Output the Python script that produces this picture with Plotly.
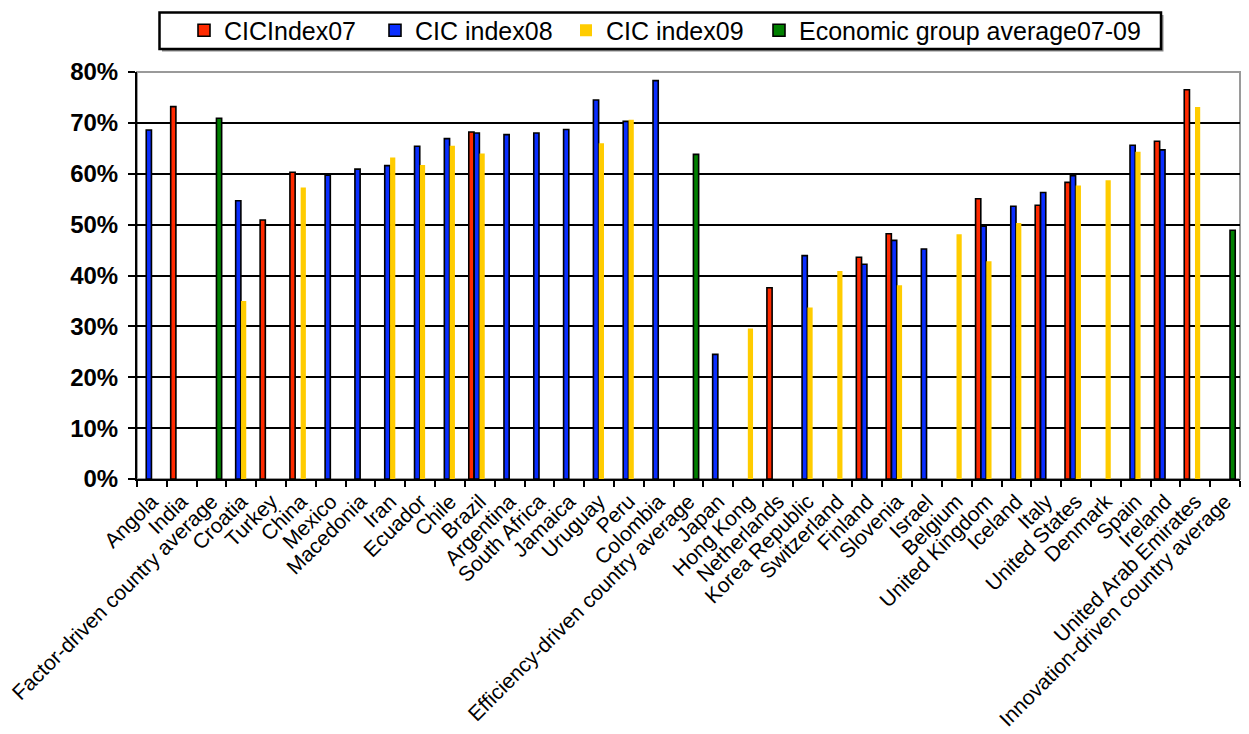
import plotly.graph_objects as go

categories = [
    "Angola", "India", "Factor-driven country average", "Croatia", "Turkey",
    "China", "Mexico", "Macedonia", "Iran", "Ecuador", "Chile", "Brazil",
    "Argentina", "South Africa", "Jamaica", "Uruguay", "Peru", "Colombia",
    "Efficiency-driven country average", "Japan", "Hong Kong", "Netherlands",
    "Korea Republic", "Switzerland", "Finland", "Slovenia", "Israel", "Belgium",
    "United Kingdom", "Iceland", "Italy", "United States", "Denmark", "Spain",
    "Ireland", "United Arab Emirates", "Innovation-driven country average",
]

# CIC index values in percent (None = no value for that year)
cic07 = [None, 73.2, None, None, 50.9, 60.3, None, None, None, None, None, 68.2,
         None, None, None, None, None, None, None, None, None, 37.6,
         None, None, 43.6, 48.2, None, None, 55.1, None, 53.8, 58.3, None, None,
         66.4, 76.5, None]
cic08 = [68.6, None, None, 54.7, None, None, 59.7, 60.9, 61.6, 65.4, 66.9, 68.0,
         67.7, 68.0, 68.7, 74.5, 70.3, 78.3, None, 24.5, None, None,
         43.9, None, 42.2, 46.9, 45.2, None, 49.7, 53.6, 56.3, 59.6, None, 65.6,
         64.7, None, None]
cic09 = [None, None, None, 35.0, None, 57.3, None, None, 63.2, 61.7, 65.5, 64.0,
         None, None, None, 66.0, 70.6, None, None, None, 29.6, None,
         33.7, 40.9, None, 38.1, None, 48.1, 42.8, 50.3, None, 57.7, 58.7, 64.3,
         None, 73.1, None]
group_avg = [None, None, 70.9, None, None, None, None, None, None, None, None, None,
             None, None, None, None, None, None, 63.8, None, None, None,
             None, None, None, None, None, None, None, None, None, None, None, None,
             None, None, 48.9]

# name, values, colour, bar offset within the category, outlined, legend id
series = [
    ("CICIndex07", cic07, "#FF2A00", -0.37, True, "legend"),
    ("CIC index08", cic08, "#0A2EFF", -0.19, True, "legend"),
    ("CIC index09", cic09, "#FFCC00", -0.01, False, "legend"),
    ("Economic group average07-09", group_avg, "#008000", 0.165, True, "legend2"),
]

fig = go.Figure()
for name, vals, color, off, outlined, lg in series:
    fig.add_trace(go.Bar(
        name=name, x=categories, y=vals,
        offset=off, width=0.175, legend=lg,
        marker=dict(color=color,
                    line=dict(color="black", width=1.6 if outlined else 0)),
    ))

W, H = 1249, 734
L, R, T, B = 137, 9, 72, 255
pw, ph = W - L - R, H - T - B


def px_x(x):
    return (x - L) / pw


def px_y(y):
    return (H - B - y) / ph


legend_font = dict(family="Liberation Sans", size=25, color="black")

fig.update_layout(
    width=W, height=H,
    barmode="overlay",
    plot_bgcolor="white", paper_bgcolor="white",
    margin=dict(l=L, r=R, t=T, b=B, autoexpand=False),
    font=dict(family="Liberation Sans", color="black"),
    legend=dict(
        orientation="h", x=px_x(184), xanchor="left", y=px_y(30.5), yanchor="middle",
        bgcolor="rgba(0,0,0,0)", borderwidth=0, font=legend_font,
        entrywidth=146, traceorder="normal",
    ),
    legend2=dict(
        orientation="h", x=px_x(759), xanchor="left", y=px_y(30.5), yanchor="middle",
        bgcolor="rgba(0,0,0,0)", borderwidth=0, font=legend_font,
    ),
    xaxis=dict(
        type="category", tickangle=-45, tickson="boundaries", automargin=False,
        ticks="outside", ticklen=6, tickwidth=2, tickcolor="black",
        showline=True, linecolor="black", linewidth=2,
        showgrid=False,
        tickfont=dict(family="Liberation Sans", size=21, color="black"),
    ),
    yaxis=dict(
        range=[0, 80], dtick=10, ticksuffix="%", automargin=False,
        ticks="outside", ticklen=7, tickwidth=2, tickcolor="black",
        showline=True, linecolor="black", linewidth=2,
        showgrid=True, gridcolor="black", gridwidth=2,
        ticklabelstandoff=5,
        tickfont=dict(family="Liberation Sans", size=24, color="black", weight="bold"),
        zeroline=False,
    ),
    shapes=[
        # gray plot-area frame
        dict(type="rect", xref="paper", yref="paper", x0=0, x1=1, y0=0, y1=1,
             line=dict(color="#9a9a9a", width=2), layer="between"),
        # legend box shadow and frame
        dict(type="rect", xref="paper", yref="paper",
             x0=px_x(162), x1=px_x(1163.5), y0=px_y(51.5), y1=px_y(15),
             line=dict(width=0), fillcolor="#8a8a8a", layer="above"),
        dict(type="rect", xref="paper", yref="paper",
             x0=px_x(159.5), x1=px_x(1161), y0=px_y(49), y1=px_y(12.5),
             line=dict(color="black", width=2.5), fillcolor="white", layer="above"),
    ],
)

fig.write_html("out.html")
